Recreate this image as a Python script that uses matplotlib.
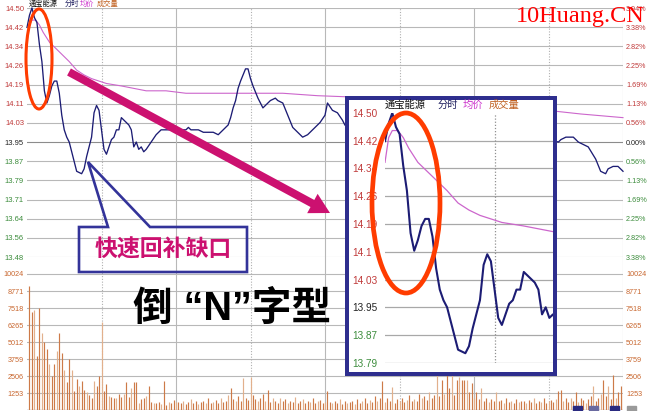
import numpy as np
import matplotlib
matplotlib.use('Agg')
import matplotlib.pyplot as plt
from matplotlib.patches import Ellipse, Polygon, FancyArrow, Rectangle

W, H = 651, 411

# ---------------- data ----------------
prev_close = 13.95
pct_levels = [3.94, 3.38, 2.82, 2.25, 1.69, 1.13, 0.56, 0.00,
              -0.56, -1.13, -1.69, -2.25, -2.82, -3.38]
price_labels = ['14.50', '14.42', '14.34', '14.26', '14.19', '14.11', '14.03',
                '13.95', '13.87', '13.79', '13.71', '13.64', '13.56', '13.48']
pct_labels = ['3.94%', '3.38%', '2.82%', '2.25%', '1.69%', '1.13%', '0.56%',
              '0.00%', '0.56%', '1.13%', '1.69%', '2.25%', '2.82%', '3.38%']
inset_labels = ['14.50', '14.42', '14.34', '14.26', '14.19', '14.1', '14.03',
                '13.95', '13.87', '13.79']
vol_ticks = [1253, 2506, 3759, 5012, 6265, 7518, 8771, 10024]
vol_labels = ['1253', '2506', '3759', '5012', '6265', '7518', '8771', '10024']

price_min = [0, 1, 2, 3, 4, 5, 6, 7, 8, 9, 10, 11, 12, 13, 14, 15, 16, 17, 18, 19,
             20, 21, 22, 23, 24, 25, 26, 27, 28, 29, 30, 31, 32, 33, 34, 35, 36, 37,
             38, 39, 40, 41, 42, 43, 44, 45, 46, 47, 48, 50, 52, 54, 56, 58, 60, 62,
             64, 65, 66, 67, 69, 71, 73, 75, 77, 79, 81, 82, 83, 84, 85, 86, 88, 89,
             90, 91, 93, 95, 96, 98, 100, 101, 103, 105, 107, 109, 111, 113, 115, 118,
             120, 121, 123, 125, 127, 128, 130, 134, 138, 142, 146, 150, 155, 160, 165,
             170, 175, 180, 185, 190, 195, 200, 205, 210, 214, 215, 217, 220, 221, 222,
             224, 226, 229, 231, 233, 234, 236, 238, 240]
price_val = [14.42, 14.47, 14.50, 14.46, 14.44, 14.35, 14.28, 14.16, 14.11, 14.14,
             14.18, 14.20, 14.20, 14.15, 14.06, 14.00, 13.97, 13.95, 13.91, 13.87,
             13.83, 13.825, 13.82, 13.84, 13.89, 13.93, 13.97, 14.07, 14.10, 14.08,
             14.00, 13.92, 13.90, 13.93, 13.96, 13.97, 14.00, 14.00, 14.05, 14.04,
             14.03, 14.02, 14.00, 13.93, 13.95, 13.92, 13.93, 13.91, 13.92, 13.95,
             13.98, 14.00, 14.00, 14.00, 13.99, 14.00, 14.00, 14.01, 14.00, 14.00,
             14.00, 13.99, 13.99, 13.99, 13.98, 14.00, 14.02, 14.05, 14.09, 14.12,
             14.17, 14.20, 14.25, 14.25, 14.21, 14.18, 14.13, 14.09, 14.10, 14.12,
             14.13, 14.12, 14.11, 14.06, 14.01, 13.99, 13.97, 13.98, 14.00, 14.03,
             14.06, 14.11, 14.08, 14.07, 14.04, 14.02, 14.00, 13.97, 13.99, 14.02,
             14.00, 13.96, 13.98, 14.01, 13.99, 13.95, 13.97, 14.00, 13.98, 13.96,
             13.99, 14.01, 13.98, 13.96, 13.95, 13.96, 13.97, 13.97, 13.96, 13.95,
             13.94, 13.93, 13.88, 13.83, 13.82, 13.84, 13.85, 13.85, 13.83]

avg_min = [0, 1, 2, 3.5, 5, 6.5, 9, 12, 15, 17, 20, 23, 26, 32, 38, 43, 48, 56,
           64, 78, 90, 103, 117, 130, 160, 190, 214, 223, 240]
avg_val = [14.36, 14.43, 14.45, 14.45, 14.43, 14.40, 14.36, 14.33, 14.30, 14.28,
           14.245, 14.225, 14.21, 14.19, 14.18, 14.17, 14.16, 14.16, 14.15, 14.15,
           14.15, 14.15, 14.14, 14.135, 14.12, 14.10, 14.075, 14.065, 14.05]

# volume, minutes 1..240
volume = [9150, 7230, 7400, 3970, 7530, 5670, 5000, 4480, 3360, 2490,
          3360, 4350, 5670, 4180, 2980, 2040, 3730, 2980, 1420, 2310,
          1740, 2160, 1490, 1300, 1120, 870, 2160, 1740, 2490, 6470,
          1420, 1920, 1040, 945, 895, 895, 1170, 990, 1190, 2040,
          970, 1620, 2040, 2040, 520, 820, 900, 1040, 1740, 620,
          500, 500, 620, 450, 2110, 350, 620, 550, 750, 620,
          600, 520, 700, 450, 580, 800, 500, 650, 420, 560,
          700, 480, 900, 550, 620, 750, 500, 850, 600, 700,
          1120, 1640, 800, 650, 1000, 700, 2390, 900, 750, 2460,
          1100, 800, 650, 900, 1200, 700, 1490, 600, 850, 700,
          550, 900, 650, 800, 500, 700, 600, 950, 550, 650,
          800, 500, 700, 600, 850, 550, 650, 750, 500, 600,
          1420, 600, 500, 700, 550, 800, 450, 650, 500, 600,
          700, 450, 800, 550, 650, 900, 500, 750, 600, 1000,
          700, 850, 2160, 600, 900, 700, 1720, 550, 800, 650,
          900, 600, 750, 1100, 650, 800, 700, 1200, 900, 1000,
          750, 1300, 900, 1100, 2600, 1000, 2240, 1200, 2600, 1600,
          2600, 1100, 2200, 2450, 2200, 2240, 2200, 1300, 2000, 900,
          1300, 800, 1600, 700, 900, 600, 800, 700, 1350, 650,
          750, 500, 900, 600, 700, 550, 800, 600, 650, 700,
          500, 750, 600, 850, 550, 700, 600, 900, 500, 650,
          750, 600, 800, 1400, 1450, 700, 900, 600, 850, 700,
          1350, 600, 900, 750, 500, 800, 1000, 1800, 700, 900,
          1200, 2240, 1000, 1800, 800, 2600, 900, 1350, 1750, 1100]
vol_min = list(range(1, 241))

# ---------------- styles ----------------
NAVY = '#1c1c74'
AVG = '#cc66cc'
GRID = '#b8b8b8'
RED_LBL = '#c03a3a'
GREEN_LBL = '#3c8c3c'
VOL_LBL = '#c8662e'
MAG = '#cc1170'
ELL = '#ff3c00'
CJK = ['Noto Sans CJK SC', 'DejaVu Sans']
NUMF = 'Liberation Sans'

fig = plt.figure(figsize=(W / 100, H / 100), dpi=100)
fig.patch.set_facecolor('white')


def px_axes(x0, y0, x1, y1):
    return fig.add_axes([x0 / W, 1 - y1 / H, (x1 - x0) / W, (y1 - y0) / H])


def px2pt(p):
    return p * 72 / 100


tick_pos = [prev_close * (1 + p / 100) for p in pct_levels]


def lbl_color(i, n_up=7):
    if i < n_up:
        return RED_LBL
    if i == n_up:
        return '#222222'
    return GREEN_LBL


# ---------------- main price panel ----------------
axp = px_axes(27, 8, 623, 257)
axp.set_xlim(0, 240)
axp.set_ylim(tick_pos[-1], tick_pos[0])
axp.patch.set_alpha(0)
for s in axp.spines.values():
    s.set_visible(False)
axp.set_xticks([])
axp.set_yticks(tick_pos, price_labels)
axp.tick_params(axis='y', length=0, pad=px2pt(3), labelsize=5.5)
for i, t in enumerate(axp.get_yticklabels()):
    t.set_color(lbl_color(i))
    t.set_fontfamily(NUMF)
for i, y in enumerate(tick_pos):
    axp.axhline(y, color='#8c8c8c' if i == 7 else GRID, lw=0.8, zorder=1)
for m in [30, 90, 150, 210]:
    axp.axvline(m, color='#b0b0b0', lw=0.8, ls=(0, (1, 1.5)), zorder=1)
for m in [60, 120, 180, 240]:
    axp.axvline(m, color=GRID, lw=0.8, zorder=1)
axp.plot(avg_min, avg_val, color=AVG, lw=0.8, zorder=3, clip_on=False)
axp.plot(price_min, price_val, color=NAVY, lw=0.95, zorder=4, clip_on=False)

axr = axp.twinx()
axr.set_ylim(tick_pos[-1], tick_pos[0])
for s in axr.spines.values():
    s.set_visible(False)
axr.set_yticks(tick_pos, pct_labels)
axr.tick_params(axis='y', length=0, pad=px2pt(3), labelsize=5.2)
for i, t in enumerate(axr.get_yticklabels()):
    t.set_color(lbl_color(i))
    t.set_fontfamily(NUMF)

# ---------------- volume panel ----------------
axv = px_axes(27, 257, 623, 410)
axv.set_xlim(0, 240)
axv.set_ylim(0, 1253 * 9)
axv.patch.set_alpha(0)
for s in axv.spines.values():
    s.set_visible(False)
axv.set_xticks([])
axv.set_yticks(vol_ticks, vol_labels)
axv.tick_params(axis='y', length=0, pad=px2pt(3), labelsize=5.2)
for t in axv.get_yticklabels():
    t.set_color(VOL_LBL)
    t.set_fontfamily(NUMF)
for y in vol_ticks:
    axv.axhline(y, color=GRID, lw=0.8, zorder=1)
axv.axhline(0, color='#a0a0a0', lw=1.0, zorder=1)
for m in [30, 90, 150, 210]:
    axv.axvline(m, color='#b0b0b0', lw=0.8, ls=(0, (1, 1.5)), zorder=1)
for m in [60, 120, 180, 240]:
    axv.axvline(m, color=GRID, lw=0.8, zorder=1)
bar_cols = ['#e2b08c' if i % 3 == 2 else '#cd7a48' for i in range(len(volume))]
axv.vlines(vol_min, 0, volume, colors=bar_cols, lw=0.85, zorder=3)

axvr = axv.twinx()
axvr.set_ylim(0, 1253 * 9)
for s in axvr.spines.values():
    s.set_visible(False)
axvr.set_yticks(vol_ticks, vol_labels)
axvr.tick_params(axis='y', length=0, pad=px2pt(3), labelsize=5.2)
for t in axvr.get_yticklabels():
    t.set_color(VOL_LBL)
    t.set_fontfamily(NUMF)

# ---------------- inset ----------------
frame = px_axes(347, 98.5, 555, 374)
frame.set_xticks([])
frame.set_yticks([])
frame.set_facecolor('white')
for s in frame.spines.values():
    s.set_color('#2e2e8e')
    s.set_linewidth(px2pt(4))

n_in = 10
axi = px_axes(385, 113, 553, 363)
axi.set_xlim(0, 46)
axi.set_ylim(tick_pos[n_in - 1], tick_pos[0])
axi.patch.set_alpha(0)
for s in axi.spines.values():
    s.set_visible(False)
axi.set_xticks([])
axi.set_yticks(tick_pos[:n_in], inset_labels)
axi.tick_params(axis='y', length=0, pad=px2pt(33), labelsize=7.2)
for i, t in enumerate(axi.get_yticklabels()):
    t.set_color(lbl_color(i))
    t.set_ha('left')
    t.set_fontfamily(NUMF)
for y in tick_pos[1:n_in]:
    axi.axhline(y, color='#a8a8a8', lw=0.9, zorder=1)
axi.axvline(30, color='#909090', lw=0.9, ls=(0, (1, 1.5)), zorder=1)
axi.plot(avg_min, avg_val, color=AVG, lw=0.9, zorder=3)
axi.plot(price_min, price_val, color=NAVY, lw=1.5, zorder=4, clip_on=True)

# ---------------- overlay ----------------
ov = fig.add_axes([0, 0, 1, 1])
ov.set_xlim(0, W)
ov.set_ylim(H, 0)
ov.axis('off')
ov.patch.set_alpha(0)

# titles
for x, s, c in [(29, '通宝能源', '#111111'), (65, '分时', '#202060'),
                (80, '均价', '#cc33cc'), (97, '成交量', '#c06020')]:
    ov.text(x, 4, s, fontsize=5.2, color=c, family=CJK, va='center', ha='left')
for x, s, c in [(385, '通宝能源', '#111111'), (438, '分时', '#202060'),
                (463, '均价', '#cc33cc'), (489, '成交量', '#c06020')]:
    ov.text(x, 105, s, fontsize=7.4, color=c, family=CJK, va='center', ha='left')

# watermark
ov.text(516, 22, '10Huang.CN', fontsize=17.5, color='#ff0000',
        family='Liberation Serif', va='baseline', ha='left')

# ellipses
ov.add_patch(Ellipse((39, 59), 26, 100, fill=False, ec=ELL, lw=2.2))
ov.add_patch(Ellipse((406, 203), 68, 180, fill=False, ec=ELL, lw=3.4))

# arrow
ov.add_patch(FancyArrow(69, 72, 261, 141, width=8, head_width=22, head_length=20,
                        length_includes_head=True, color=MAG, lw=0))

# callout
ov.add_patch(Polygon([(79, 227), (108, 227), (88, 162), (150, 227), (247, 227),
                      (247, 272), (79, 272)], closed=True, fill=False,
                     ec='#333399', lw=1.9, joinstyle='miter'))
ov.text(163, 250, '快速回补缺口', fontsize=16.5, color=MAG, family=CJK,
        weight='bold', ha='center', va='center')

# big text
ov.text(133, 309, '倒 “N”字型', fontsize=28.5, color='black',
        family=['Liberation Sans', 'Noto Sans CJK SC'], weight='bold',
        ha='left', va='center')

# toolbar icons
for x, c in [(573, '#2a2a80'), (589, '#6a6aa0'), (610, '#2a2a80'), (627, '#9a9a9a')]:
    ov.add_patch(Rectangle((x, 406), 9, 5, color=c))

fig.savefig('out.png', dpi=100)
